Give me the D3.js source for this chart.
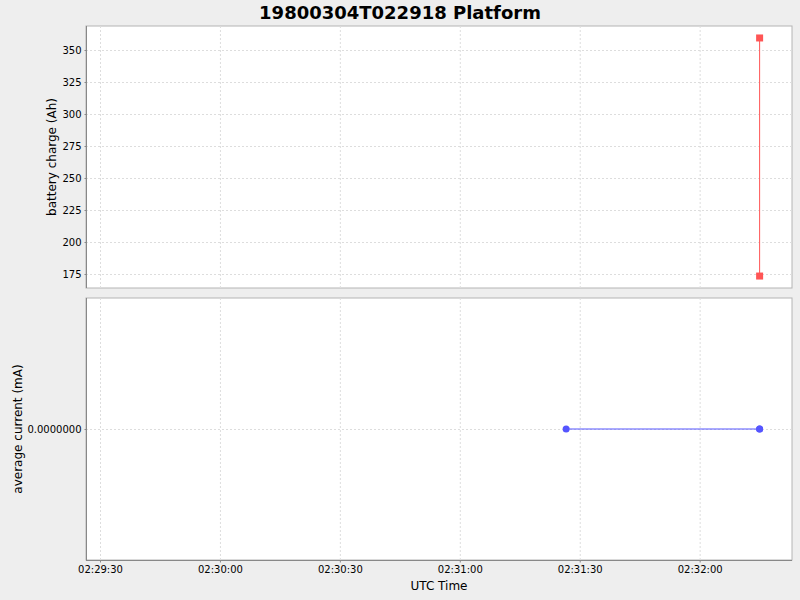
<!DOCTYPE html>
<html>
<head>
<meta charset="utf-8">
<script src="https://cdn.jsdelivr.net/npm/d3@7"></script>
<style>
  body { margin: 0; background: #eeeeee; }
  text { font-family: "DejaVu Sans", sans-serif; }
  .grid line { stroke: #dddddd; stroke-dasharray: 2,2; }
  .axis path, .axis line { stroke: #888888; }
  .axis text { fill: #000; font-size: 10px; }
</style>
</head>
<body>
<div id="chart_area"></div>
<script>

// battery charge series (top plot)
var chargeTimes = ["1980-03-04T02:32:15", "1980-03-04T02:32:15"];
var chargeValues = [359.4, 173.4];

// average current series (bottom plot)
var currentTimes = ["1980-03-04T02:31:26.6", "1980-03-04T02:32:15", "1980-03-04T02:32:15"];
var currentValues = [0, 0, 0];

var yTicksTop = [175, 200, 225, 250, 275, 300, 325, 350];
var yTicksBottom = [0];
var xTickTimes = ["1980-03-04T02:29:30", "1980-03-04T02:30:00", "1980-03-04T02:30:30",
                  "1980-03-04T02:31:00", "1980-03-04T02:31:30", "1980-03-04T02:32:00"];
var xDomain = ["1980-03-04T02:29:26.5", "1980-03-04T02:32:23.1"];

var parse = function (s) { return new Date(s + "Z"); };
var fmt = d3.utcFormat("%H:%M:%S");

var frame_width = 800, frame_height = 600;
var left = 86, right = 792;
var top1 = 26, bottom1 = 288;
var top2 = 298, bottom2 = 560;

var svg = d3.select("#chart_area").append("svg")
  .attr("width", frame_width)
  .attr("height", frame_height);

svg.append("rect").attr("width", frame_width).attr("height", frame_height).attr("fill", "#eeeeee");

svg.append("text")
  .attr("x", 400).attr("y", 19)
  .attr("text-anchor", "middle")
  .attr("font-size", "18px").attr("font-weight", "bold")
  .text("19800304T022918 Platform");

var xScale = d3.scaleUtc().domain(xDomain.map(parse)).range([left, right]);
var xTicks = xTickTimes.map(parse);

var yTop = d3.scaleLinear().domain([164.06, 368.75]).range([bottom1, top1]);
var yBot = d3.scaleLinear().domain([-1, 1]).range([bottom2, top2]);

function drawPlot(yScale, yTicks, y0, y1, tickFmt, label, labelX) {
  var g = svg.append("g");
  g.append("rect")
    .attr("x", left).attr("y", y0)
    .attr("width", right - left).attr("height", y1 - y0)
    .attr("fill", "#ffffff").attr("stroke", "#b4b4b4");

  // gridlines
  var grid = g.append("g").attr("class", "grid");
  grid.selectAll(".vx").data(xTicks).enter().append("line")
    .attr("x1", function (d) { return xScale(d) + 0.5; })
    .attr("x2", function (d) { return xScale(d) + 0.5; })
    .attr("y1", y0).attr("y2", y1);
  grid.selectAll(".hy").data(yTicks).enter().append("line")
    .attr("y1", function (d) { return Math.round(yScale(d)) + 0.5; })
    .attr("y2", function (d) { return Math.round(yScale(d)) + 0.5; })
    .attr("x1", left).attr("x2", right);

  var yAxis = d3.axisLeft(yScale).tickValues(yTicks).tickSize(2).tickPadding(3).tickFormat(tickFmt);
  g.append("g").attr("class", "axis")
    .attr("transform", "translate(" + (left + 0.5) + ",0)")
    .call(yAxis)
    .call(function (a) { a.select(".domain").attr("d", "M0," + y0 + "V" + y1); });

  svg.append("text")
    .attr("transform", "translate(" + labelX + "," + ((y0 + y1) / 2) + ") rotate(-90)")
    .attr("text-anchor", "middle")
    .attr("font-size", "12px")
    .text(label);
  return g;
}

var gTop = drawPlot(yTop, yTicksTop, top1, bottom1, d3.format("d"), "battery charge (Ah)", 56);
var gBot = drawPlot(yBot, yTicksBottom, top2, bottom2, d3.format(".7f"), "average current (mA)", 22);

// x axis on bottom plot
var xAxis = d3.axisBottom(xScale).tickValues(xTicks).tickSize(2).tickPadding(3).tickFormat(fmt);
gBot.append("g").attr("class", "axis")
  .attr("transform", "translate(0," + (bottom2 + 0.5) + ")")
  .call(xAxis)
  .call(function (a) { a.select(".domain").attr("d", "M" + left + ",0H" + right); });

svg.append("text")
  .attr("x", (left + right) / 2).attr("y", 590)
  .attr("text-anchor", "middle")
  .attr("font-size", "12px")
  .text("UTC Time");

// top series
var topData = chargeTimes.map(function (t, i) { return { t: parse(t), v: chargeValues[i] }; });
var lineTop = d3.line().x(function (d) { return xScale(d.t); }).y(function (d) { return yTop(d.v); });
gTop.append("path").datum(topData)
  .attr("d", lineTop).attr("fill", "none").attr("stroke", "#ff5555").attr("stroke-width", 1);
gTop.selectAll(".sq").data(topData).enter().append("rect")
  .attr("x", function (d) { return xScale(d.t) - 3.5; })
  .attr("y", function (d) { return yTop(d.v) - 3.5; })
  .attr("width", 7).attr("height", 7)
  .attr("fill", "#ff5555");

// bottom series
var botData = currentTimes.map(function (t, i) { return { t: parse(t), v: currentValues[i] }; });
var lineBot = d3.line().x(function (d) { return xScale(d.t); }).y(function (d) { return yBot(d.v); });
gBot.append("path").datum(botData)
  .attr("d", lineBot).attr("fill", "none").attr("stroke", "#5555ff").attr("stroke-width", 1);
gBot.selectAll(".dot").data(botData).enter().append("circle")
  .attr("cx", function (d) { return xScale(d.t); })
  .attr("cy", function (d) { return yBot(d.v); })
  .attr("r", 3.5)
  .attr("fill", "#5555ff");

</script>
</body>
</html>
